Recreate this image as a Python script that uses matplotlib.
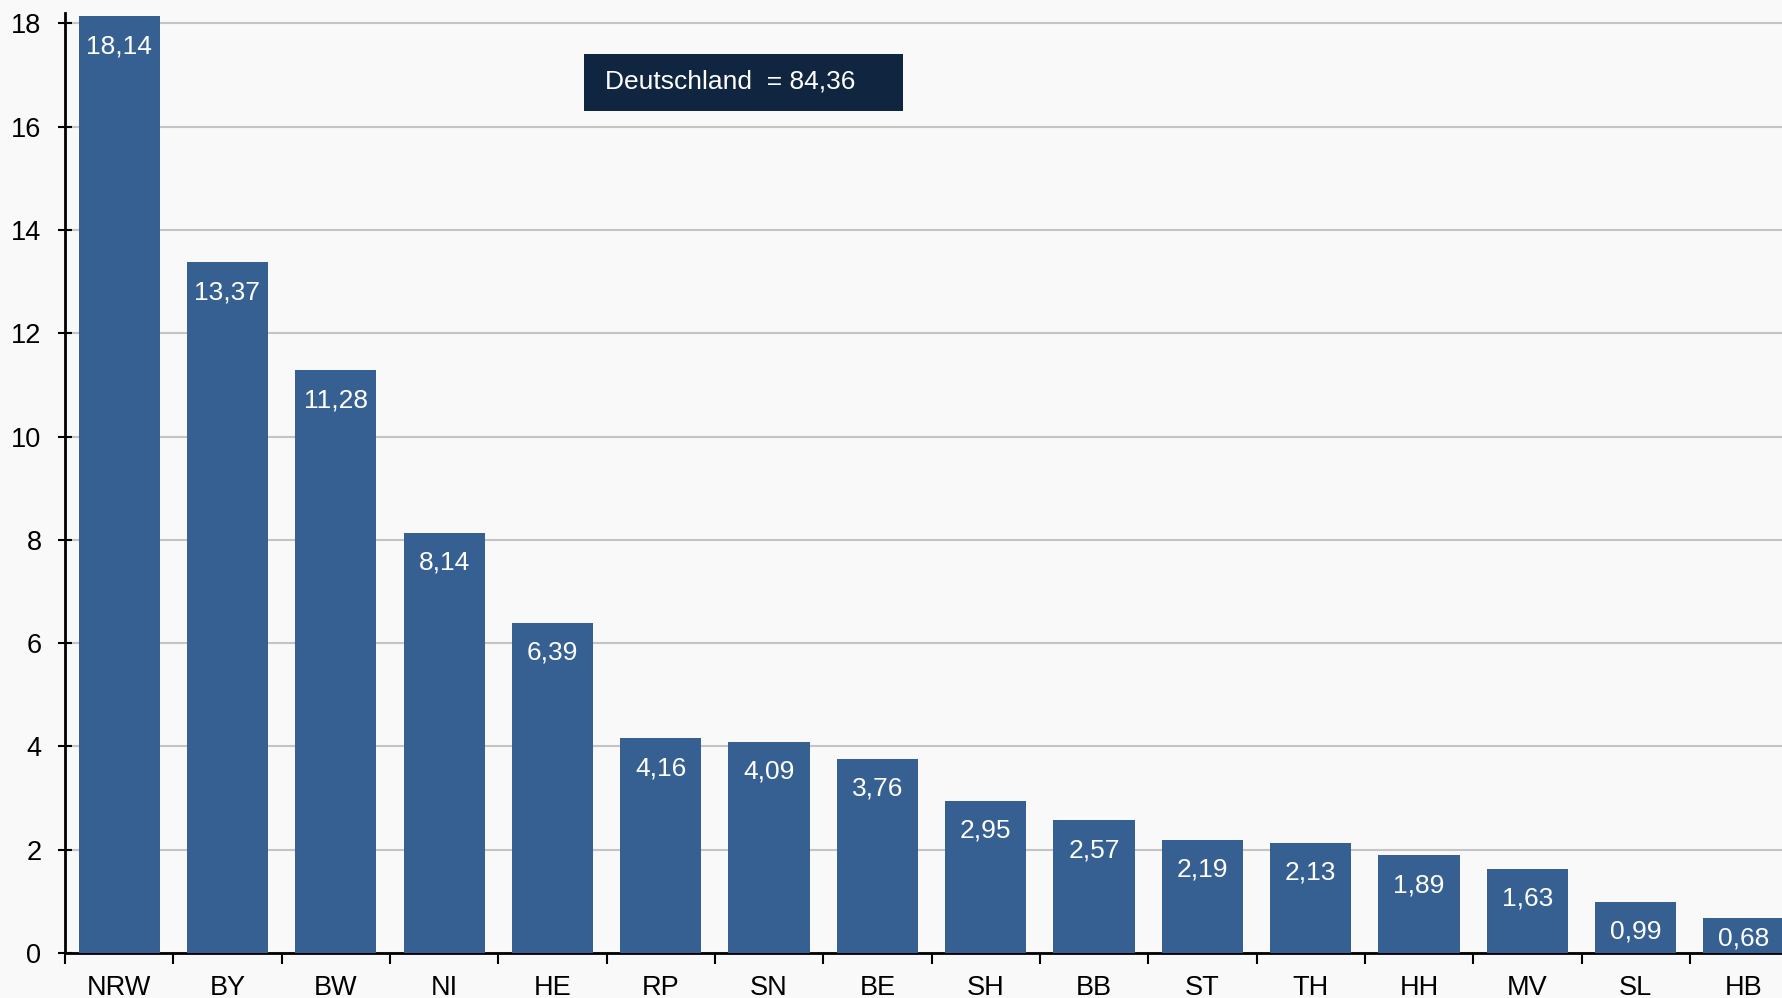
import matplotlib.pyplot as plt
from matplotlib.patches import Rectangle

plt.rcParams['font.family'] = ['Liberation Sans', 'DejaVu Sans']

# Daten
laender = ['NRW', 'BY', 'BW', 'NI', 'HE', 'RP', 'SN', 'BE',
           'SH', 'BB', 'ST', 'TH', 'HH', 'MV', 'SL', 'HB']
werte = [18.14, 13.37, 11.28, 8.14, 6.39, 4.16, 4.09, 3.76,
         2.95, 2.57, 2.19, 2.13, 1.89, 1.63, 0.99, 0.68]
gesamt = 84.36
y_ticks = [0, 2, 4, 6, 8, 10, 12, 14, 16, 18]

bar_color = '#376092'
box_color = '#10253F'
bg = '#f9f9f9'

W, H = 1783, 998
fig = plt.figure(figsize=(W / 100, H / 100), dpi=100, facecolor=bg)
ax = fig.add_axes([65 / W, 45 / H, (W - 65) / W, 940 / H])
ax.set_facecolor(bg)

x = list(range(len(laender)))
ax.bar(x, werte, width=0.75, color=bar_color, zorder=3)

for xi, v in zip(x, werte):
    ypos = max(v - 0.58, 0.29)
    ax.text(xi, ypos, f'{v:.2f}'.replace('.', ','), ha='center', va='center',
            color='white', fontsize=19, zorder=4)

ax.set_yticks(y_ticks)
ax.set_yticklabels([str(t) for t in y_ticks], fontsize=19.5)
ax.yaxis.grid(True, color='#c4c4c4', linewidth=1.5, zorder=0)
ax.set_axisbelow(True)

ax.set_xticks(x)
ax.set_xticklabels(laender, fontsize=19.5)
ax.set_xticks([i - 0.5 for i in range(len(laender) + 1)], minor=True)
ax.tick_params(axis='x', which='major', length=0, pad=16)
ax.tick_params(axis='x', which='minor', length=8, width=1.5, direction='out')
ax.tick_params(axis='y', length=10, width=1.5, direction='inout', pad=12)

# Grenzen erst nach den Ticks setzen (set_xticks erweitert sonst die Achse)
ax.set_xlim(-0.5, 15.36)
ax.set_ylim(0, 18.2)

for s in ['top', 'right']:
    ax.spines[s].set_visible(False)
for s in ['left', 'bottom']:
    ax.spines[s].set_linewidth(2)
    ax.spines[s].set_color('black')

# Summenbox
fig.add_artist(Rectangle((584 / W, (H - 111) / H), 319 / W, 57 / H,
                         transform=fig.transFigure, facecolor=box_color,
                         edgecolor='none', zorder=5))
fig.text(605 / W, (H - 82) / H, f'Deutschland  = {gesamt:.2f}'.replace('.', ','),
         color='white', fontsize=19, ha='left', va='center', zorder=6)

fig.savefig('out.png', dpi=100, facecolor=bg)
